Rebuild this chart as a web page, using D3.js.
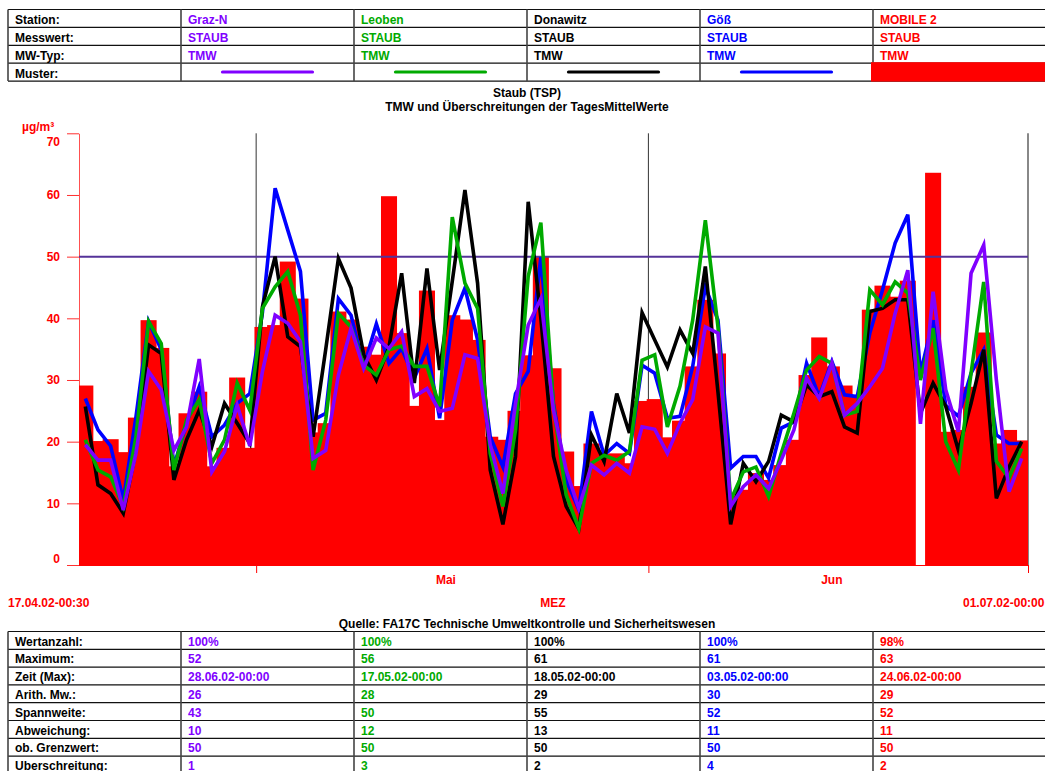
<!DOCTYPE html>
<html>
<head>
<meta charset="utf-8">
<script src="https://cdn.jsdelivr.net/npm/d3@7"></script>
<style>
  html, body { margin: 0; padding: 0; background: #fff; overflow: hidden; }
  svg { display: block; font-family: "Liberation Sans", Arial, Helvetica, sans-serif; font-weight: bold; }
</style>
</head>
<body>
<svg id="chart" width="1045" height="771"></svg>
<script>
// ---- Stations and header rows ----
const stations   = ["Graz-N", "Leoben", "Donawitz", "Göß", "MOBILE 2"];
const messwert   = ["STAUB", "STAUB", "STAUB", "STAUB", "STAUB"];
const mwTyp      = ["TMW", "TMW", "TMW", "TMW", "TMW"];
const colors     = ["#8000ff", "#00aa00", "#000000", "#0000ff", "#ff0000"];

// ---- Daily means (TMW), µg/m³, 17.04.2002 – 30.06.2002 ----
const startDay = new Date(Date.UTC(2002, 3, 17));
const endDay   = new Date(Date.UTC(2002, 6, 1));

const grazN = [19.5,17.0,17.0,8.9,18.1,31.4,28.4,18.6,22.4,33.4,15.1,18.4,25.9,19.3,31.4,40.5,39.2,36.2,17.3,18.6,
  30.8,38.4,31.9,36.8,35.1,37.8,27.3,28.6,24.9,25.4,34.1,33.5,19.5,11.6,26.2,38.9,43.2,25.1,15.4,9.2,
  16.2,14.6,16.5,14.9,22.4,22.0,18.1,23.0,26.8,38.6,37.6,9.5,12.7,14.6,12.4,17.0,21.9,30.3,27.0,32.7,
  24.3,26.2,28.9,31.9,40.8,47.8,22.9,44.3,28.4,21.6,47.3,51.9,30.0,11.9,17.3];

const leoben = [20.3,15.4,14.3,9.5,20.8,39.5,35.9,15.4,23.5,26.8,16.5,20.3,29.5,25.1,41.6,45.1,47.6,40.5,15.4,23.5,
  40.8,38.6,32.4,30.8,34.9,35.5,32.2,32.2,25.7,56.4,45.7,41.6,18.1,9.5,21.9,46.8,55.5,25.7,11.4,5.9,
  16.5,17.8,17.0,18.4,33.2,34.1,22.4,29.0,39.7,55.9,38.6,10.5,15.1,15.9,11.1,18.1,24.6,31.6,33.8,32.7,
  24.3,24.9,44.6,42.2,45.9,44.1,30.0,38.4,20.0,15.4,31.1,45.9,16.8,14.1,18.9];

const donawitz = [25.7,13.0,11.6,8.4,18.6,35.7,34.3,13.8,20.3,25.1,19.2,26.2,23.0,19.7,41.9,50.0,37.0,35.4,20.8,35.0,
  49.7,44.9,34.1,30.0,35.4,47.3,29.5,48.1,31.6,46.0,60.8,45.7,15.4,6.6,17.6,58.9,40.0,17.6,9.5,5.9,
  21.1,16.8,27.8,21.4,40.9,36.5,32.1,38.1,34.3,48.4,28.0,6.6,16.5,13.5,16.8,24.3,23.2,29.2,27.3,28.1,
  22.4,21.4,41.1,41.6,43.0,43.0,24.6,29.5,25.7,18.6,26.2,34.9,10.8,15.9,20.0];

const goess = [27.0,21.9,19.3,10.5,24.0,39.5,34.9,16.0,23.0,28.9,20.8,22.7,26.2,27.8,41.0,61.1,54.3,47.6,23.5,24.6,
  43.2,40.5,32.2,39.1,32.7,35.1,30.3,35.1,23.8,39.7,44.9,36.5,20.8,15.9,27.8,31.4,49.9,26.2,13.8,9.0,
  24.9,17.8,19.7,18.1,32.4,31.1,23.8,24.1,32.2,45.1,39.7,15.7,17.6,17.6,14.1,22.2,23.2,32.7,27.3,33.0,
  27.6,27.3,37.6,44.6,52.2,56.8,31.1,39.7,25.9,24.1,31.1,34.9,21.1,19.7,19.7];

const mobile2 = [29.1,20.1,20.4,18.3,23.9,39.7,35.2,16.0,24.6,28.1,16.0,19.0,30.4,19.0,38.6,38.9,49.2,43.2,21.5,23.0,
  41.1,39.8,35.4,34.1,59.8,37.6,25.8,44.5,23.5,40.5,39.8,36.5,20.8,20.3,25.0,34.0,50.0,31.9,18.4,12.8,
  19.7,18.0,18.1,16.5,26.6,26.9,20.7,23.4,32.2,43.0,34.3,11.3,12.2,14.9,13.8,16.2,20.3,30.8,36.9,32.2,
  29.1,27.3,41.4,45.3,43.5,46.1,null,63.6,21.6,21.9,28.9,37.7,19.7,21.9,20.2];

// ---- Axis ticks and labels ----
const yTicks      = [0, 10, 20, 30, 40, 50, 60, 70];
const grenzwert   = 50;
const monthStarts = [new Date(Date.UTC(2002, 4, 1)), new Date(Date.UTC(2002, 5, 1)), endDay];
const monthLabels = ["Mai", "Jun"];
const startLabel  = "17.04.02-00:30";
const endLabel    = "01.07.02-00:00";
const zoneLabel   = "MEZ";
const unitLabel   = "µg/m³";
const titleLines  = ["Staub (TSP)", "TMW und Überschreitungen der TagesMittelWerte"];
const sourceLabel = "Quelle: FA17C Technische Umweltkontrolle und Sicherheitswesen";

// ---- Summary table ----
const statLabels   = ["Wertanzahl:", "Maximum:", "Zeit (Max):", "Arith. Mw.:", "Spannweite:", "Abweichung:", "ob. Grenzwert:", "Uberschreitung:"];
const statGrazN    = ["100%", "52", "28.06.02-00:00", "26", "43", "10", "50", "1"];
const statLeoben   = ["100%", "56", "17.05.02-00:00", "28", "50", "12", "50", "3"];
const statDonawitz = ["100%", "61", "18.05.02-00:00", "29", "55", "13", "50", "2"];
const statGoess    = ["100%", "61", "03.05.02-00:00", "30", "52", "11", "50", "4"];
const statMobile2  = ["98%",  "63", "24.06.02-00:00", "29", "52", "11", "50", "2"];

// ---------------------------------------------------------------
const svg = d3.select("#chart");
const W = 1045;
const tableLeft = 8, labelColW = 173, colW = 173;
const colX = i => tableLeft + labelColW + i * colW;   // left edge of station column i
const RED = "#ff0000";

function drawTableGrid(g, top, rowH, nRows) {
  for (let r = 0; r <= nRows; r++) {
    g.append("line").attr("x1", tableLeft).attr("x2", W + 5)
      .attr("y1", top + r * rowH).attr("y2", top + r * rowH)
      .attr("stroke", "#111").attr("stroke-width", 1.2);
  }
  const vx = [tableLeft, ...d3.range(5).map(colX)];
  vx.forEach(x => g.append("line").attr("x1", x).attr("x2", x)
    .attr("y1", top).attr("y2", top + nRows * rowH)
    .attr("stroke", "#444").attr("stroke-width", 1.6));
}

function cellText(g, x, y, txt, fill) {
  g.append("text").attr("x", x).attr("y", y).attr("font-size", 12)
    .attr("fill", fill).text(txt);
}

// ---- Header table ----
{
  const g = svg.append("g");
  const top = 9.5, rowH = 17.9;
  const rows = [
    ["Station:", stations],
    ["Messwert:", messwert],
    ["MW-Typ:", mwTyp],
    ["Muster:", null]
  ];
  drawTableGrid(g, top, rowH, rows.length);
  rows.forEach((row, r) => {
    const base = top + r * rowH + 14.3;
    cellText(g, 15, base, row[0], "#000");
    if (row[1]) row[1].forEach((t, i) => cellText(g, colX(i) + 7, base, t, colors[i]));
  });
  // line pattern swatches
  for (let i = 0; i < 4; i++) {
    const cx = colX(i) + colW / 2;
    g.append("line").attr("x1", cx - 45).attr("x2", cx + 45)
      .attr("y1", top + 3 * rowH + 8.8).attr("y2", top + 3 * rowH + 8.8)
      .attr("stroke", colors[i]).attr("stroke-width", 3.2).attr("stroke-linecap", "round");
  }
  // MOBILE 2 pattern swatch (filled area), covering its cell border
  g.append("rect").attr("x", colX(4) - 2).attr("y", top + 3 * rowH - 1)
    .attr("width", W - colX(4) + 4).attr("height", rowH + 1.5).attr("fill", RED);
}

// ---- Titles ----
svg.append("text").attr("x", 527).attr("y", 97).attr("text-anchor", "middle")
  .attr("font-size", 12).attr("fill", "#000").text(titleLines[0]);
svg.append("text").attr("x", 527).attr("y", 111).attr("text-anchor", "middle")
  .attr("font-size", 12).attr("fill", "#000").text(titleLines[1]);

// ---- Chart area ----
const plotL = 79, plotR = 1028, plotT = 133.3, plotB = 565;
const x = d3.scaleUtc().domain([startDay, endDay]).range([plotL, plotR]);
const y = d3.scaleLinear().domain([0, 70]).range([plotB, plotT]);
const days = d3.utcDay.range(startDay, endDay);
const mid = d => d3.utcHour.offset(d, 12);
const dayW = x(days[1]) - x(days[0]);
const barW = dayW + 3.4;

const plot = svg.append("g");
svg.append("defs").append("clipPath").attr("id", "plotClip")
  .append("rect").attr("x", plotL).attr("y", 0).attr("width", plotR - plotL).attr("height", plotB + 2);

// month separators
monthStarts.slice(0, 2).forEach(d => {
  plot.append("line").attr("x1", x(d)).attr("x2", x(d)).attr("y1", plotT).attr("y2", plotB)
    .attr("stroke", "#333").attr("stroke-width", 1);
});
plot.append("line").attr("x1", plotR).attr("x2", plotR).attr("y1", plotT).attr("y2", plotB)
  .attr("stroke", "#888").attr("stroke-width", 2);

// y axis
const yAxis = d3.axisLeft(y).tickValues(yTicks).tickSize(12).tickSizeOuter(0).tickPadding(7);
const gy = plot.append("g").attr("transform", `translate(${plotL},0)`).call(yAxis);
gy.select(".domain").attr("stroke", "#ff5050").attr("stroke-width", 1);
gy.selectAll(".tick line").attr("stroke", "#ff3030").attr("stroke-width", 1);
gy.selectAll(".tick text").attr("fill", RED).attr("font-size", 12).attr("font-weight", "bold")
  .attr("font-family", "Liberation Sans, Arial, sans-serif")
  .attr("dy", v => v === 70 ? "1.05em" : v === 0 ? "-0.2em" : "0.32em");
svg.append("text").attr("x", 22).attr("y", 131).attr("font-size", 12).attr("fill", RED).text(unitLabel);

// MOBILE 2 bars
const barData = days.map((d, i) => ({ d, v: mobile2[i] })).filter(o => o.v != null);
plot.append("g").attr("clip-path", "url(#plotClip)")
  .selectAll("rect").data(barData).join("rect")
  .attr("x", o => x(mid(o.d)) - barW / 2)
  .attr("width", barW)
  .attr("y", o => y(o.v))
  .attr("height", o => y(0) - y(o.v) + 1)
  .attr("fill", RED);

// x axis
const xAxis = d3.axisBottom(x).tickValues(monthStarts).tickSize(8).tickSizeOuter(0).tickFormat("");
const gx = plot.append("g").attr("transform", `translate(0,${plotB})`).call(xAxis);
gx.select(".domain").attr("stroke", RED).attr("stroke-width", 1);
gx.selectAll(".tick line").attr("stroke", RED).attr("stroke-width", 1);

// month names
monthLabels.forEach((m, k) => {
  const a = x(monthStarts[k]), b = x(monthStarts[k + 1]);
  svg.append("text").attr("x", (a + b) / 2 - dayW / 2).attr("y", 584)
    .attr("text-anchor", "middle").attr("font-size", 12).attr("fill", RED).text(m);
});

// limit value line
plot.append("line").attr("x1", plotL).attr("x2", plotR)
  .attr("y1", y(grenzwert)).attr("y2", y(grenzwert))
  .attr("stroke", "#553399").attr("stroke-width", 2);

// station lines (Göß at the back, Graz-N in front)
const line = d3.line().defined(v => v != null)
  .x((v, i) => x(mid(days[i]))).y(v => y(v));
[[goess, 3], [donawitz, 2], [leoben, 1], [grazN, 0]].forEach(([series, ci]) => {
  plot.append("path").datum(series).attr("d", line)
    .attr("fill", "none").attr("stroke", colors[ci]).attr("stroke-width", 3.6)
    .attr("stroke-linejoin", "miter");
});

// time range labels
svg.append("text").attr("x", 8).attr("y", 607).attr("font-size", 12).attr("fill", RED).text(startLabel);
svg.append("text").attr("x", 553).attr("y", 607).attr("text-anchor", "middle").attr("font-size", 12).attr("fill", RED).text(zoneLabel);
svg.append("text").attr("x", 963).attr("y", 607).attr("font-size", 12).attr("fill", RED).text(endLabel);

// source
svg.append("text").attr("x", 527).attr("y", 628).attr("text-anchor", "middle")
  .attr("font-size", 12).attr("fill", "#000").text(sourceLabel);

// ---- Summary table ----
{
  const g = svg.append("g");
  const top = 631.5, rowH = 17.8;
  drawTableGrid(g, top, rowH, statLabels.length + 1);
  const cols = [statGrazN, statLeoben, statDonawitz, statGoess, statMobile2];
  statLabels.forEach((lab, r) => {
    const base = top + r * rowH + 14;
    cellText(g, 15, base, lab, "#000");
    cols.forEach((c, i) => cellText(g, colX(i) + 7, base, c[r], colors[i]));
  });
}
</script>
</body>
</html>
